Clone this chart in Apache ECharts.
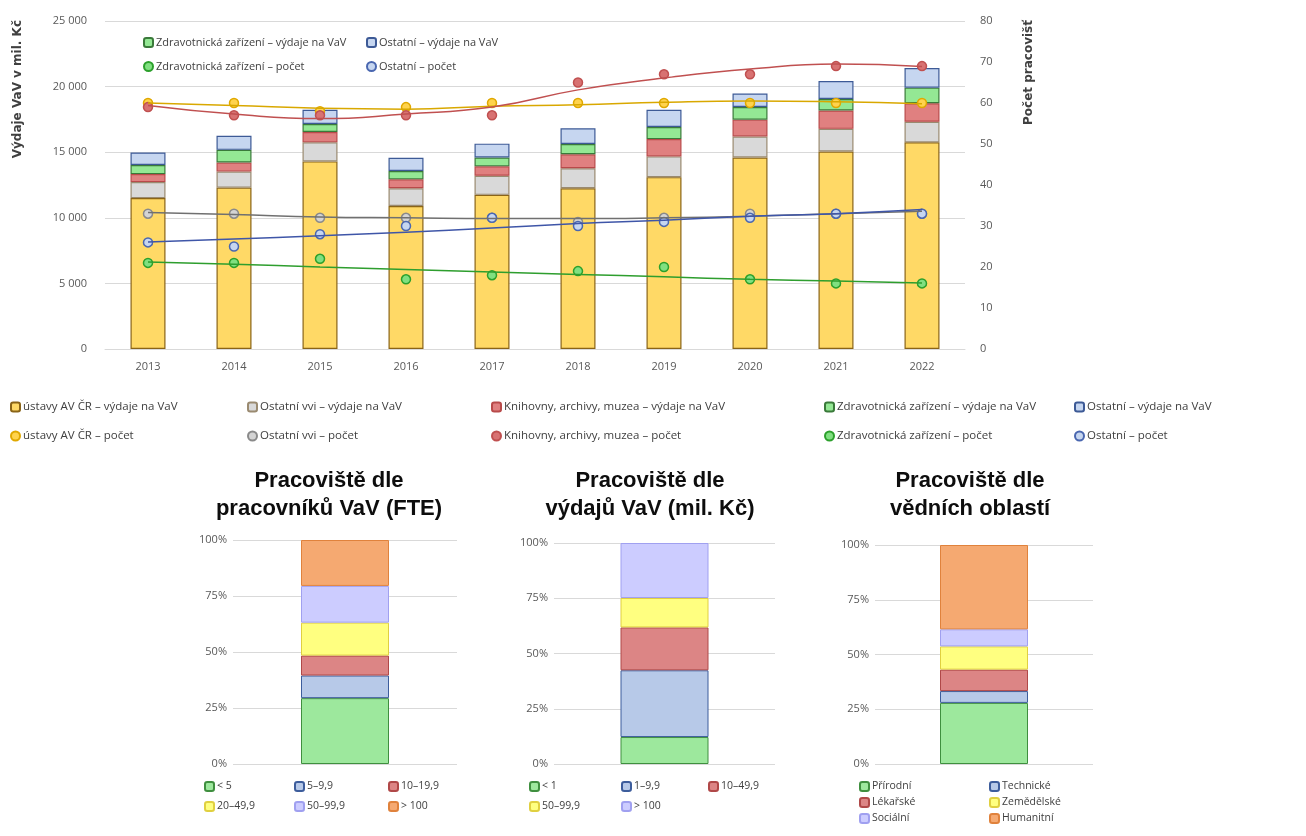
<!DOCTYPE html>
<html>
<head>
<meta charset="utf-8">
<script src="https://cdn.jsdelivr.net/npm/echarts@6/dist/echarts.min.js"></script>
<style>
  html, body { margin: 0; padding: 0; background: #fff; }
  #main { width: 1306px; height: 836px; }
</style>
</head>
<body>
<div id="main"></div>
<script>
// roky
var years = ['2013', '2014', '2015', '2016', '2017', '2018', '2019', '2020', '2021', '2022'];

// výdaje na VaV (mil. Kč), skládané sloupce
var avcrSpend = [11500, 12300, 14300, 10900, 11750, 12250, 13100, 14600, 15050, 15750];
var vviSpend = [1220, 1220, 1450, 1350, 1450, 1530, 1580, 1600, 1730, 1570];
var knihSpend = [610, 690, 790, 680, 720, 1060, 1320, 1280, 1400, 1410];
var zdravSpend = [690, 970, 610, 640, 680, 790, 920, 970, 870, 1190];
var ostSpend = [960, 1070, 1090, 1000, 1050, 1190, 1320, 1020, 1370, 1500];

// počet pracovišť (body)
var avcrCount = [60, 60, 58, 59, 60, 60, 60, 60, 60, 60];
var vviCount = [33, 33, 32, 32, 32, 31, 32, 33, 33, 33];
var knihCount = [59, 57, 57, 57, 57, 65, 67, 67, 69, 69];
var zdravCount = [21, 21, 22, 17, 18, 19, 20, 17, 16, 16];
var ostCount = [26, 25, 28, 30, 32, 30, 31, 32, 33, 33];

// spojnice trendu
var avcrTrend = [60, 59.4, 58.7, 58.5, 59.2, 59.6, 60.2, 60.5, 60.3, 59.8];
var vviTrend = [33.3, 32.8, 32.2, 32, 31.8, 31.8, 32, 32.4, 33, 33.6];
var knihTrend = [59.4, 57.3, 56.2, 57.3, 59, 63.2, 66.1, 68.3, 69.5, 68.9];
var zdravTrend = [21.2, 20.7, 20, 19.4, 18.8, 18.2, 17.6, 17, 16.6, 16.1];
var ostTrend = [26.1, 26.8, 27.6, 28.5, 29.5, 30.6, 31.4, 32.4, 33, 34];

// spodní grafy (%)
var fteCats = ['< 5', '5–9,9', '10–19,9', '20–49,9', '50–99,9', '> 100'];
var fteVals = [29.4, 10.1, 8.9, 14.7, 16.4, 20.5];
var spendCats = ['< 1', '1–9,9', '10–49,9', '50–99,9', '> 100'];
var spendVals = [12.2, 30.2, 19.4, 13.3, 24.9];
var fieldCats = ['Přírodní', 'Technické', 'Lékařské', 'Zemědělské', 'Sociální', 'Humanitní'];
var fieldVals = [27.9, 5.4, 9.8, 10.6, 7.8, 38.5];

var FONT = '"Open Sans", "DejaVu Sans", sans-serif';
var TXT = '#404040';

// barvy spodních grafů
var partFill = ['#9de89d', '#b7c9e8', '#dc8585', '#ffff80', '#ccccff', '#f5a971'];
var partLine = ['#3f8f3f', '#3d5d9c', '#b04848', '#e0d040', '#a0a0f0', '#e0823c'];

var names = {
    avS: 'ústavy AV ČR – výdaje na VaV',
    vvS: 'Ostatní vvi – výdaje na VaV',
    knS: 'Knihovny, archivy, muzea – výdaje na VaV',
    zdS: 'Zdravotnická zařízení – výdaje na VaV',
    osS: 'Ostatní – výdaje na VaV',
    avC: 'ústavy AV ČR – počet',
    vvC: 'Ostatní vvi – počet',
    knC: 'Knihovny, archivy, muzea – počet',
    zdC: 'Zdravotnická zařízení – počet',
    osC: 'Ostatní – počet'
};

function fmtThousands(v) {
    return String(v).replace(/\B(?=(\d{3})+(?!\d))/g, ' ');
}

function barSeries(name, data, fill, border) {
    return {
        name: name, type: 'bar', stack: 'vav', data: data, barWidth: 35,
        xAxisIndex: 0, yAxisIndex: 0,
        itemStyle: { color: fill, borderColor: border, borderWidth: 1.2 }
    };
}

function trendSeries(data, color) {
    return {
        name: 'trend', type: 'line', data: data, smooth: true, symbol: 'none',
        xAxisIndex: 0, yAxisIndex: 1, silent: true,
        lineStyle: { color: color, width: 1.5 }
    };
}

function dotSeries(name, data, fill, border) {
    return {
        name: name, type: 'scatter', data: data, symbolSize: 9,
        xAxisIndex: 0, yAxisIndex: 1,
        itemStyle: { color: fill, borderColor: border, borderWidth: 1.5, opacity: 1 }
    };
}

function partSeries(prefix, cats, vals, gridIdx) {
    var out = [];
    for (var i = 0; i < cats.length; i++) {
        out.push({
            name: prefix + '|' + cats[i], type: 'bar', stack: prefix, barWidth: 88,
            xAxisIndex: gridIdx, yAxisIndex: gridIdx + 1,
            data: [vals[i]],
            itemStyle: { color: partFill[i], borderColor: partLine[i], borderWidth: 1 }
        });
    }
    return out;
}

function mkLegend(left, top, data, size, gap) {
    return {
        left: left, top: top, orient: 'vertical', data: data,
        itemWidth: 9, itemHeight: 9, itemGap: gap, padding: 0,
        selectedMode: false,
        formatter: function (n) { return n.indexOf('|') >= 0 ? n.split('|')[1] : n; },
        textStyle: { fontFamily: FONT, fontSize: size, color: TXT, padding: [0, 0, 0, -2] }
    };
}

function pctGrid(left, right, top) {
    return { left: left, right: right, top: top, bottom: 72 };
}

function pctY(idx) {
    return {
        type: 'value', gridIndex: idx, min: 0, max: 100, interval: 25,
        axisLabel: { formatter: '{value}%', fontFamily: FONT, fontSize: 11, color: '#595959', margin: 6 },
        axisLine: { show: false }, axisTick: { show: false },
        splitLine: { lineStyle: { color: '#d9d9d9' } }
    };
}

function pctX(idx) {
    return {
        type: 'category', gridIndex: idx, data: [''],
        axisLine: { show: false }, axisTick: { show: false }, axisLabel: { show: false }
    };
}

var series = [
    barSeries(names.avS, avcrSpend, '#ffd966', '#8a6417'),
    barSeries(names.vvS, vviSpend, '#d9d9d9', '#9a8a70'),
    barSeries(names.knS, knihSpend, '#e08080', '#b84a4a'),
    barSeries(names.zdS, zdravSpend, '#94e894', '#3a7a3a'),
    barSeries(names.osS, ostSpend, '#c6d6f0', '#3d5a96'),
    trendSeries(avcrTrend, '#d9a800'),
    trendSeries(knihTrend, '#c05050'),
    trendSeries(vviTrend, '#707070'),
    trendSeries(ostTrend, '#3f56a8'),
    trendSeries(zdravTrend, '#2e9e2e'),
    dotSeries(names.avC, avcrCount, '#ffd34d', '#e0a800'),
    dotSeries(names.knC, knihCount, '#d87272', '#c05050'),
    dotSeries(names.vvC, vviCount, '#d4d4d4', '#8a8a8a'),
    dotSeries(names.osC, ostCount, '#c6d6f0', '#4a67b0'),
    dotSeries(names.zdC, zdravCount, '#80e080', '#2ca02c')
];
series = series.concat(partSeries('fte', fteCats, fteVals, 1));
series = series.concat(partSeries('spend', spendCats, spendVals, 2));
series = series.concat(partSeries('field', fieldCats, fieldVals, 3));

var titleStyle = { fontFamily: '"Liberation Sans", Arial, sans-serif', fontSize: 22, fontWeight: 'bold', color: '#0d0d0d', lineHeight: 28 };

var option = {
    animation: false,
    backgroundColor: '#fff',
    title: [
        { text: 'Pracoviště dle\npracovníků VaV (FTE)', left: 324, top: 462, textAlign: 'center', textStyle: titleStyle },
        { text: 'Pracoviště dle\nvýdajů VaV (mil. Kč)', left: 645, top: 462, textAlign: 'center', textStyle: titleStyle },
        { text: 'Pracoviště dle\nvědních oblastí', left: 965, top: 462, textAlign: 'center', textStyle: titleStyle }
    ],
    legend: [
        // legenda uvnitř horního grafu
        mkLegend(143, 37, [names.zdS, names.zdC], 11, 13),
        mkLegend(366, 37, [names.osS, names.osC], 11, 13),
        // legenda pod horním grafem
        mkLegend(10, 401, [names.avS, names.avC], 11.5, 17),
        mkLegend(247, 401, [names.vvS, names.vvC], 11.5, 17),
        mkLegend(491, 401, [names.knS, names.knC], 11.5, 17),
        mkLegend(824, 401, [names.zdS, names.zdC], 11.5, 17),
        mkLegend(1074, 401, [names.osS, names.osC], 11.5, 17),
        // spodní grafy
        mkLegend(204, 781, ['fte|< 5', 'fte|20–49,9'], 10.5, 9),
        mkLegend(294, 781, ['fte|5–9,9', 'fte|50–99,9'], 10.5, 9),
        mkLegend(388, 781, ['fte|10–19,9', 'fte|> 100'], 10.5, 9),
        mkLegend(529, 781, ['spend|< 1', 'spend|50–99,9'], 10.5, 9),
        mkLegend(621, 781, ['spend|1–9,9', 'spend|> 100'], 10.5, 9),
        mkLegend(708, 781, ['spend|10–49,9'], 10.5, 9),
        mkLegend(859, 781, ['field|Přírodní', 'field|Lékařské', 'field|Sociální'], 10.5, 5),
        mkLegend(989, 781, ['field|Technické', 'field|Zemědělské', 'field|Humanitní'], 10.5, 5)
    ],
    graphic: [
        { type: 'text', x: 18, y: 20, rotation: Math.PI / 2,
          style: { text: 'Výdaje VaV v mil. Kč', font: 'bold 12px "DejaVu Sans", sans-serif', fill: TXT, align: 'right', verticalAlign: 'middle' } },
        { type: 'text', x: 1029, y: 20, rotation: Math.PI / 2,
          style: { text: 'Počet pracovišť', font: 'bold 12px "DejaVu Sans", sans-serif', fill: TXT, align: 'right', verticalAlign: 'middle' } }
    ],
    grid: [
        { left: 105, right: 341, top: 21, bottom: 487 },
        pctGrid(233, 849, 540),
        pctGrid(554, 531, 543),
        pctGrid(875, 213, 545)
    ],
    xAxis: [
        {
            type: 'category', gridIndex: 0, data: years,
            axisLine: { lineStyle: { color: '#d9d9d9' } }, axisTick: { show: false },
            axisLabel: { fontFamily: FONT, fontSize: 11, color: '#595959', margin: 12 }
        },
        pctX(1), pctX(2), pctX(3)
    ],
    yAxis: [
        {
            type: 'value', gridIndex: 0, min: 0, max: 25000, interval: 5000,
            axisLabel: { formatter: fmtThousands, fontFamily: FONT, fontSize: 11, color: '#595959', margin: 18 },
            axisLine: { show: false }, axisTick: { show: false },
            splitLine: { lineStyle: { color: '#d9d9d9' } }
        },
        {
            type: 'value', gridIndex: 0, min: 0, max: 80, interval: 10, position: 'right',
            axisLabel: { fontFamily: FONT, fontSize: 11, color: '#595959', margin: 15 },
            axisLine: { show: false }, axisTick: { show: false }, splitLine: { show: false }
        },
        pctY(1), pctY(2), pctY(3)
    ],
    series: series
};

var myChart = echarts.init(document.getElementById('main'));
myChart.setOption(option);
</script>
</body>
</html>
